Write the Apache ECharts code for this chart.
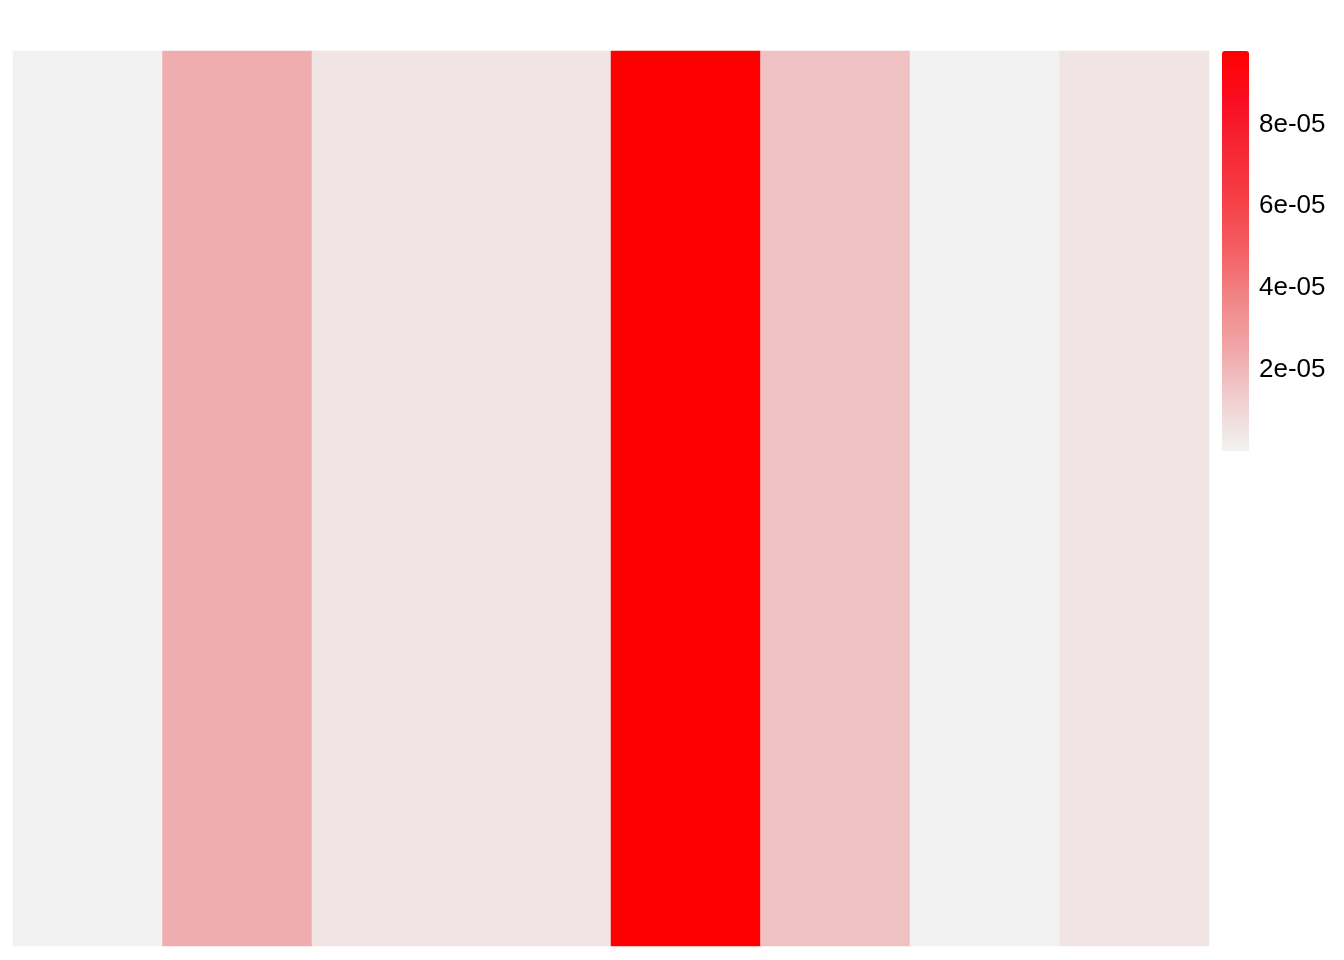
<!DOCTYPE html>
<html>
<head>
<meta charset="utf-8">
<script src="https://cdn.jsdelivr.net/npm/echarts@6/dist/echarts.min.js"></script>
<style>
html,body{margin:0;padding:0;background:#fff;}
#chart{width:1344px;height:960px;}
</style>
</head>
<body>
<div id="chart"></div>
<script>
// Columns of the heatmap (one row)
const categories = ['1', '2', '3', '4', '5', '6', '7', '8'];
const rows = [''];
const values = [0, 2.3e-05, 0.49e-05, 0.49e-05, 9.8e-05, 1.67e-05, 0, 0.49e-05];
// Colour scale
const scaleMin = 0;
const scaleMax = 9.8e-05;
const scaleTickInterval = 2e-05;
const scaleColors = ['#F2F2F2', '#F0D0D2', '#F0A8AA', '#F08888', '#F36064', '#F54048', '#F62834', '#F90E22', '#FF0000'];

function fmtExp(v) {
  const s = v.toExponential(0); // e.g. "8e-5"
  const parts = s.split('e');
  const e = parseInt(parts[1], 10);
  return parts[0] + 'e' + (e < 0 ? '-' : '+') + String(Math.abs(e)).padStart(2, '0');
}

const chart = echarts.init(document.getElementById('chart'), null, {renderer: 'canvas'});
const data = values.map((v, i) => [i, 0, v]);

chart.setOption({
  animation: false,
  backgroundColor: '#ffffff',
  textStyle: {fontFamily: 'Liberation Sans, Arial, sans-serif'},
  grid: [
    {left: 13, top: 51, width: 1196, height: 895},
    {left: 1222, top: 51, width: 27, height: 400}
  ],
  xAxis: [
    {type: 'category', gridIndex: 0, data: categories, show: false},
    {type: 'value', gridIndex: 1, show: false, min: 0, max: 1}
  ],
  yAxis: [
    {type: 'category', gridIndex: 0, data: rows, show: false},
    {
      type: 'value', gridIndex: 1, position: 'right',
      min: scaleMin, max: scaleMax, interval: scaleTickInterval,
      axisLine: {show: false}, axisTick: {show: false}, splitLine: {show: false},
      axisLabel: {
        showMinLabel: false, showMaxLabel: false,
        margin: 10, fontSize: 26, color: '#000000',
        fontFamily: 'Liberation Sans, Arial, sans-serif',
        formatter: v => (v <= 0 ? '' : fmtExp(v))
      }
    }
  ],
  visualMap: {
    type: 'continuous',
    seriesIndex: 0,
    min: scaleMin,
    max: scaleMax,
    left: 1222,
    top: 51,
    itemWidth: 27,
    itemHeight: 400,
    padding: 0,
    calculable: false,
    hoverLink: false,
    text: null,
    showLabel: false,
    inRange: {color: scaleColors}
  },
  series: [{
    type: 'heatmap',
    xAxisIndex: 0,
    yAxisIndex: 0,
    data: data,
    itemStyle: {borderWidth: 0},
    emphasis: {disabled: true}
  }]
});
</script>
</body>
</html>
